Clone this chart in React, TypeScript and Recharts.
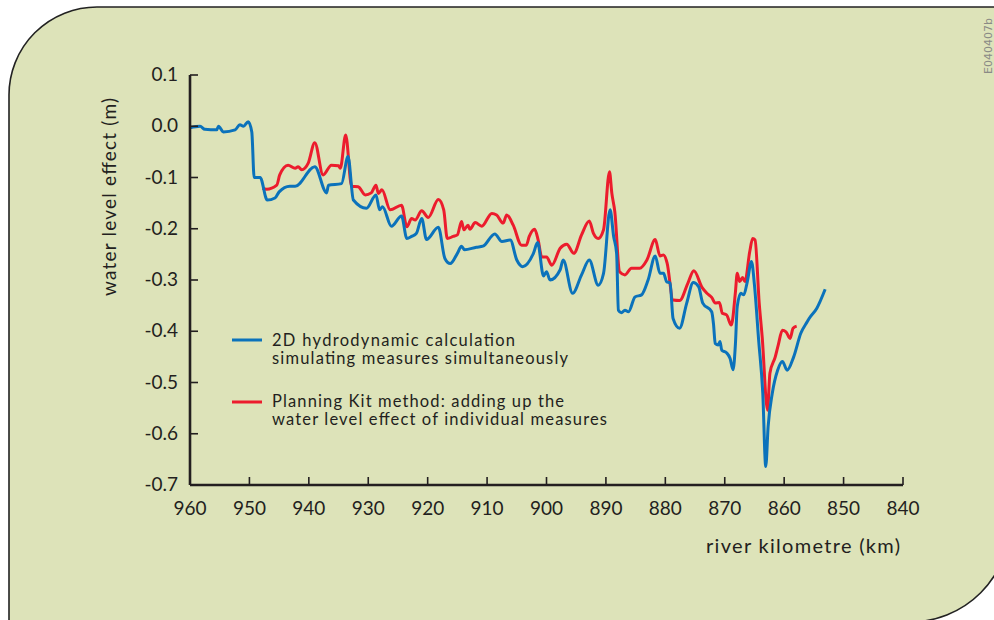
import React from "react";
import { LineChart, Line, XAxis, YAxis, Legend, Label } from "recharts";

const FONT = "Lato, 'Open Sans', sans-serif";
const TEXT = "#231f20";
const BLUE = "#0b72bb";
const RED = "#ec1c2d";

const xTicks = [960, 950, 940, 930, 920, 910, 900, 890, 880, 870, 860, 850, 840];
const yTicks = [0.1, 0.0, -0.1, -0.2, -0.3, -0.4, -0.5, -0.6, -0.7];

const blueKm = [
  960.0, 958.3, 957.5, 955.5, 955.2, 954.4, 952.4, 951.6, 951.0, 950.2, 949.6, 949.2, 948.2, 947.0,
  945.7, 945.0, 943.2, 942.3, 939.0, 937.0, 936.7, 934.5, 933.4, 932.5, 930.3, 928.7, 928.1, 927.6,
  926.1, 924.4, 923.5, 922.7, 921.9, 921.0, 920.2, 918.2, 917.1, 916.2, 915.0, 914.3, 913.8, 911.8,
  910.7, 908.7, 907.5, 906.1, 905.0, 904.0, 902.2, 901.5, 900.5, 900.0, 899.4, 897.7, 897.2, 895.6,
  894.1, 892.8, 891.3, 890.4, 889.3, 888.7, 888.2, 887.9, 887.4, 886.8, 886.2, 885.1, 884.0, 882.9,
  881.7, 880.9, 880.3, 879.8, 879.2, 878.7, 877.6, 876.4, 875.3, 874.4, 873.7, 872.2, 871.9, 871.6,
  871.1, 870.8, 870.5, 869.7, 869.1, 868.6, 868.2, 867.9, 867.3, 866.8, 866.2, 865.5, 865.0, 864.3,
  863.6, 863.1, 862.7, 862.0, 861.1, 860.3, 859.5, 858.4, 857.2, 856.1, 855.8, 854.5, 853.1,
];
const blueVal = [
  -0.003, 0.0, -0.006, -0.007, 0.0, -0.011, -0.007, 0.003, 0.0, 0.009, -0.011, -0.1, -0.1, -0.144,
  -0.14, -0.128, -0.117, -0.117, -0.079, -0.13, -0.115, -0.112, -0.059, -0.144, -0.16, -0.134, -0.163, -0.157,
  -0.195, -0.175, -0.219, -0.215, -0.209, -0.18, -0.221, -0.197, -0.258, -0.268, -0.248, -0.234, -0.241, -0.236,
  -0.234, -0.21, -0.225, -0.222, -0.261, -0.274, -0.248, -0.227, -0.292, -0.284, -0.3, -0.28, -0.261, -0.326,
  -0.29, -0.261, -0.31, -0.287, -0.163, -0.215, -0.248, -0.359, -0.364, -0.359, -0.362, -0.333, -0.329, -0.3,
  -0.253, -0.287, -0.287, -0.303, -0.306, -0.375, -0.394, -0.345, -0.305, -0.313, -0.345, -0.362, -0.385, -0.424,
  -0.427, -0.42, -0.437, -0.442, -0.453, -0.475, -0.424, -0.352, -0.326, -0.329, -0.303, -0.264, -0.31, -0.417,
  -0.521, -0.664, -0.586, -0.521, -0.476, -0.459, -0.476, -0.45, -0.404, -0.381, -0.375, -0.355, -0.318,
];

const redKm = [
  947.8, 947.1, 945.4, 944.9, 943.5, 942.3, 941.8, 941.2, 940.1, 939.0, 937.6, 936.2, 935.0, 934.7,
  933.8, 932.8, 931.7, 930.5, 929.5, 928.7, 928.3, 927.7, 926.3, 924.4, 923.5, 922.7, 922.1, 921.0,
  919.9, 918.2, 917.3, 916.7, 915.7, 915.0, 914.3, 913.9, 913.2, 912.9, 912.0, 910.9, 909.2, 908.4,
  907.3, 906.7, 905.6, 904.2, 903.4, 902.9, 902.0, 901.4, 900.8, 900.0, 899.1, 897.7, 896.6, 895.4,
  894.1, 892.8, 892.1, 891.3, 890.4, 889.4, 889.0, 888.5, 887.7, 886.8, 885.7, 884.3, 883.1, 881.7,
  880.9, 880.3, 879.7, 878.7, 877.6, 876.2, 875.2, 873.8, 873.0, 872.2, 871.6, 870.9, 870.4, 869.7,
  868.9, 868.2, 867.9, 867.5, 867.0, 866.6, 865.8, 865.3, 864.9, 864.2, 863.7, 862.8, 862.4, 861.5,
  861.0, 860.3, 859.7, 859.0, 858.5, 857.9,
];
const redVal = [
  -0.121, -0.123, -0.115, -0.095, -0.076, -0.082, -0.079, -0.085, -0.072, -0.032, -0.095, -0.076, -0.077, -0.082,
  -0.017, -0.117, -0.118, -0.134, -0.13, -0.115, -0.131, -0.124, -0.163, -0.154, -0.196, -0.18, -0.183, -0.165,
  -0.178, -0.143, -0.163, -0.219, -0.215, -0.212, -0.186, -0.202, -0.193, -0.201, -0.188, -0.195, -0.17, -0.173,
  -0.189, -0.173, -0.193, -0.232, -0.232, -0.215, -0.201, -0.222, -0.255, -0.255, -0.271, -0.238, -0.23, -0.248,
  -0.212, -0.185, -0.209, -0.219, -0.202, -0.089, -0.131, -0.167, -0.284, -0.29, -0.277, -0.277, -0.261, -0.221,
  -0.253, -0.251, -0.267, -0.339, -0.34, -0.306, -0.282, -0.315, -0.326, -0.334, -0.345, -0.344, -0.365, -0.368,
  -0.388, -0.323, -0.287, -0.303, -0.295, -0.303, -0.245, -0.219, -0.222, -0.345, -0.411, -0.554, -0.482, -0.45,
  -0.427, -0.398, -0.401, -0.414, -0.394, -0.39,
];

const legendBlue = ["2D hydrodynamic calculation", "simulating measures simultaneously"];
const legendRed = ["Planning Kit method: adding up the", "water level effect of individual measures"];

const blueData = blueKm.map((km, i) => ({ km, v: blueVal[i] }));
const redData = redKm.map((km, i) => ({ km, v: redVal[i] }));

const XTick = (props: any) => {
  const { x, y, payload } = props;
  return (
    <g>
      <line x1={x} x2={x} y1={y} y2={y - 8} stroke={TEXT} strokeWidth={1.6} />
      <text x={x} y={y + 30} textAnchor="middle" fontFamily={FONT} fontSize={19} fill={TEXT}>
        {payload.value}
      </text>
    </g>
  );
};

const YTick = (props: any) => {
  const { x, y, payload } = props;
  const v = Number(payload.value);
  const label = Math.abs(v) < 1e-9 ? "0.0" : v.toFixed(1);
  return (
    <g>
      <line x1={x} x2={x + 8} y1={y} y2={y} stroke={TEXT} strokeWidth={1.6} />
      <text x={x - 12} y={y + 6} textAnchor="end" fontFamily={FONT} fontSize={19} fill={TEXT}>
        {label}
      </text>
    </g>
  );
};

const lt = { fontFamily: FONT, fontSize: 16.5, fill: TEXT } as const;

const LegendContent = () => (
  <svg width={420} height={110} style={{ overflow: "visible", display: "block" }}>
    <line x1={7} x2={37} y1={20} y2={20} stroke={BLUE} strokeWidth={3} />
    <text x={47} y={26} {...lt} textLength={243} lengthAdjust="spacing">{legendBlue[0]}</text>
    <text x={47} y={44} {...lt} textLength={296} lengthAdjust="spacing">{legendBlue[1]}</text>
    <line x1={7} x2={37} y1={82} y2={82} stroke={RED} strokeWidth={3} />
    <text x={47} y={87} {...lt} textLength={292} lengthAdjust="spacing">{legendRed[0]}</text>
    <text x={47} y={105} {...lt} textLength={335} lengthAdjust="spacing">{legendRed[1]}</text>
  </svg>
);

export default function App() {
  return (
    <div style={{ position: "absolute", left: 0, top: 0, width: 994, height: 620, background: "#fff" }}>
      <svg width={994} height={620} style={{ position: "absolute", left: 0, top: 0 }}>
        <path
          d="M 9 640 L 9 95 A 88 88 0 0 1 97 7 L 1010 7 L 1010 522 A 100 100 0 0 1 910 622 L 9 622 Z"
          fill="#dde3b9"
          stroke="#222"
          strokeWidth={1.6}
        />
        <text
          transform="translate(992,46) rotate(-90)"
          textAnchor="middle"
          fontFamily="'DejaVu Sans', sans-serif"
          fontSize={11}
          fill="#8a8a86"
        >
          E040407b
        </text>
      </svg>
      <div style={{ position: "absolute", left: 0, top: 0 }}>
        <LineChart width={994} height={620} margin={{ top: 75, right: 91, bottom: 105, left: 110 }}>
          <XAxis
            type="number"
            dataKey="km"
            domain={[840, 960]}
            ticks={xTicks}
            reversed
            allowDataOverflow
            tickSize={0}
            tickMargin={0}
            tick={<XTick />}
            axisLine={{ stroke: TEXT, strokeWidth: 2.6 }}
            height={30}
          >
            <Label
              content={() => (
                <text x={706} y={553} fontFamily={FONT} fontSize={20} fill={TEXT} textLength={194} lengthAdjust="spacing">
                  river kilometre (km)
                </text>
              )}
            />
          </XAxis>
          <YAxis
            type="number"
            domain={[-0.7, 0.1]}
            ticks={yTicks}
            allowDataOverflow
            tickSize={0}
            tickMargin={0}
            tick={<YTick />}
            axisLine={{ stroke: TEXT, strokeWidth: 2.6 }}
            width={80}
          >
            <Label
              content={() => (
                <text
                  transform="translate(116,296) rotate(-90)"
                  fontFamily={FONT}
                  fontSize={19}
                  fill={TEXT}
                  textLength={198}
                  lengthAdjust="spacing"
                >
                  water level effect (m)
                </text>
              )}
            />
          </YAxis>
          <Legend
            layout="horizontal"
            verticalAlign="middle"
            align="center"
            content={<LegendContent />}
            wrapperStyle={{ position: "absolute", left: 225, top: 320, width: 420, height: 110 }}
          />
          <Line
            data={redData}
            dataKey="v"
            type="monotone"
            stroke={RED}
            strokeWidth={3}
            dot={false}
            isAnimationActive={false}
            name="Planning Kit method"
          />
          <Line
            data={blueData}
            dataKey="v"
            type="monotone"
            stroke={BLUE}
            strokeWidth={3}
            dot={false}
            isAnimationActive={false}
            name="2D hydrodynamic calculation"
          />
        </LineChart>
      </div>
    </div>
  );
}
